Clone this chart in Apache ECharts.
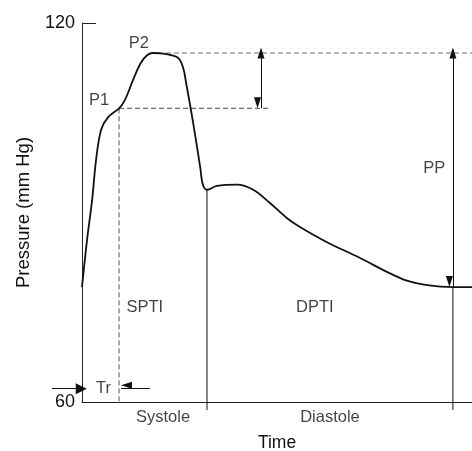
<!DOCTYPE html>
<html><head><meta charset="utf-8">
<script src="https://cdn.jsdelivr.net/npm/echarts@6/dist/echarts.min.js"></script>
<style>html,body{margin:0;padding:0;background:#fff}#c{width:472px;height:451px}</style>
</head><body><div id="c"></div>
<script>
// ---- data (time as % of cardiac cycle, pressure in mm Hg) ----
const timePct = [0, 1.3, 2.6, 3.6, 4.9, 6.7, 9.5, 11.0, 13.1, 15.1, 16.7, 18.2, 21.3, 24.6, 25.9, 26.7, 28.5, 30.3, 31.0, 32.05, 34.6, 39.7, 43.9, 48.2, 52.6, 55.9, 62.8, 71.3, 78.2, 83.3, 88.5, 95.1, 100];
const pressure = [78.2, 85.7, 92.0, 98.3, 103.1, 105.1, 106.5, 107.8, 111.0, 113.7, 114.9, 115.25, 115.1, 114.5, 113.0, 110.5, 104.2, 97.2, 94.4, 93.6, 94.2, 94.4, 93.6, 91.5, 89.1, 87.7, 85.3, 82.8, 80.6, 79.2, 78.5, 78.2, 78.2];
const yTicks = [60, 120];
const tTr = 9.5;        // time of P1 (reflection time Tr)
const pP1 = 106.5;      // P1 pressure
const pP2 = 115.25;     // P2 (systolic peak)
const pDia = 78.2;      // end-diastolic pressure
const tP2DashStart = 21.5;
const tP1DashEnd = 48.2;
const tAug = 45.9;      // augmentation arrow
const tNotch = 32.05;   // dicrotic notch / end systole
const tPP = 95.1;       // pulse pressure arrow
const pTrArrow = 62.1;
const tTrLeftStart = -7.7, tTrLeftEnd = -0.2, tTrRightStart = 17.4;
const tickExt = 58.73;  // lines extend slightly below the time axis
const annText = ['P1', 'P2', 'PP', 'SPTI', 'DPTI', 'Tr', 'Systole', 'Diastole'];
const annT = [4.4, 14.6, 90.3, 16.1, 59.7, 5.5, (tTr + tNotch) / 2, (tNotch + tPP) / 2];
const annP = [107.8, 116.8, 97.0, 74.9, 74.9, 62.1, 57.6, 57.6];

// ---- chart ----
const FONT = 'Liberation Sans';
const black = '#111', grey = '#6a6a6a';
const curve = timePct.map((t, i) => [t, pressure[i]]);
function seg(pts, style) {
  return { type: 'line', data: pts, symbol: 'none', silent: true, clip: false, animation: false, lineStyle: style, z: 3 };
}
const dashed = { color: grey, width: 1.2, type: [5, 3] };
const thin = { color: black, width: 1 };
const arrowML = (from, to, syms) => ({
  symbol: syms, symbolSize: [7, 11], symbolOffset: [0, '50%'],
  silent: true, animation: false, label: { show: false },
  lineStyle: { color: black, width: 1, type: 'solid' },
  data: [[{ coord: from }, { coord: to }]]
});

const chart = echarts.init(document.getElementById('c'), null, { renderer: 'canvas' });
chart.setOption({
  animation: false,
  textStyle: { fontFamily: FONT },
  grid: { left: 82, right: 0, top: 23, bottom: 49, containLabel: false, outerBoundsMode: 'none' },
  xAxis: {
    type: 'value', min: 0, max: 100,
    name: 'Time', nameLocation: 'middle', nameGap: 32,
    nameTextStyle: { fontSize: 17.5, color: black, fontFamily: FONT },
    axisLine: { show: true, lineStyle: { color: '#222', width: 1 } },
    axisTick: { show: false }, axisLabel: { show: false }, splitLine: { show: false }
  },
  yAxis: {
    type: 'value', min: yTicks[0], max: yTicks[1], interval: yTicks[1] - yTicks[0],
    name: 'Pressure (mm Hg)', nameLocation: 'middle', nameGap: 49,
    nameTextStyle: { fontSize: 18.5, color: black, fontFamily: FONT },
    axisLine: { show: true, lineStyle: { color: '#222', width: 1 } },
    axisTick: { show: true, inside: true, length: 14, lineStyle: { color: '#222' } },
    axisLabel: { fontSize: 18, color: black, margin: 7, fontFamily: FONT },
    splitLine: { show: false }
  },
  series: [
    { type: 'line', data: curve, smooth: 0.35, symbol: 'none', silent: true, z: 5,
      lineStyle: { color: black, width: 1.8 } },
    seg([[tP2DashStart, pP2], [100, pP2]], dashed),
    seg([[tTr, pP1], [tP1DashEnd, pP1]], dashed),
    seg([[tTr, pP1], [tTr, yTicks[0]]], dashed),
    seg([[tNotch, pressure[timePct.indexOf(tNotch)]], [tNotch, tickExt]], thin),
    seg([[tPP, pDia], [tPP, tickExt]], thin),
    { type: 'line', data: [], clip: false, markLine: arrowML([tAug, pP2], [tAug, pP1], ['triangle', 'triangle']) },
    { type: 'line', data: [], clip: false, markLine: arrowML([tPP, pP2], [tPP, pDia], ['triangle', 'triangle']) },
    { type: 'line', data: [], clip: false, markLine: arrowML([tTrRightStart, pTrArrow], [tTr + 0.5, pTrArrow], ['none', 'triangle']) },
    { type: 'lines', coordinateSystem: 'cartesian2d', clip: false, silent: true, z: 4,
      symbol: ['none', 'triangle'], symbolSize: [7, 11], symbolOffset: [0, '50%'],
      lineStyle: { color: black, width: 1, opacity: 1 },
      data: [{ coords: [[tTrLeftStart, pTrArrow], [tTrLeftEnd, pTrArrow]] }] },
    { type: 'scatter', data: annT.map((t, i) => [t, annP[i]]), symbolSize: 1, clip: false, silent: true,
      itemStyle: { color: 'rgba(0,0,0,0)' },
      label: { show: true, position: 'inside', formatter: p => annText[p.dataIndex],
               color: black, fontSize: 16.5, fontFamily: FONT } }
  ]
});
</script></body></html>
